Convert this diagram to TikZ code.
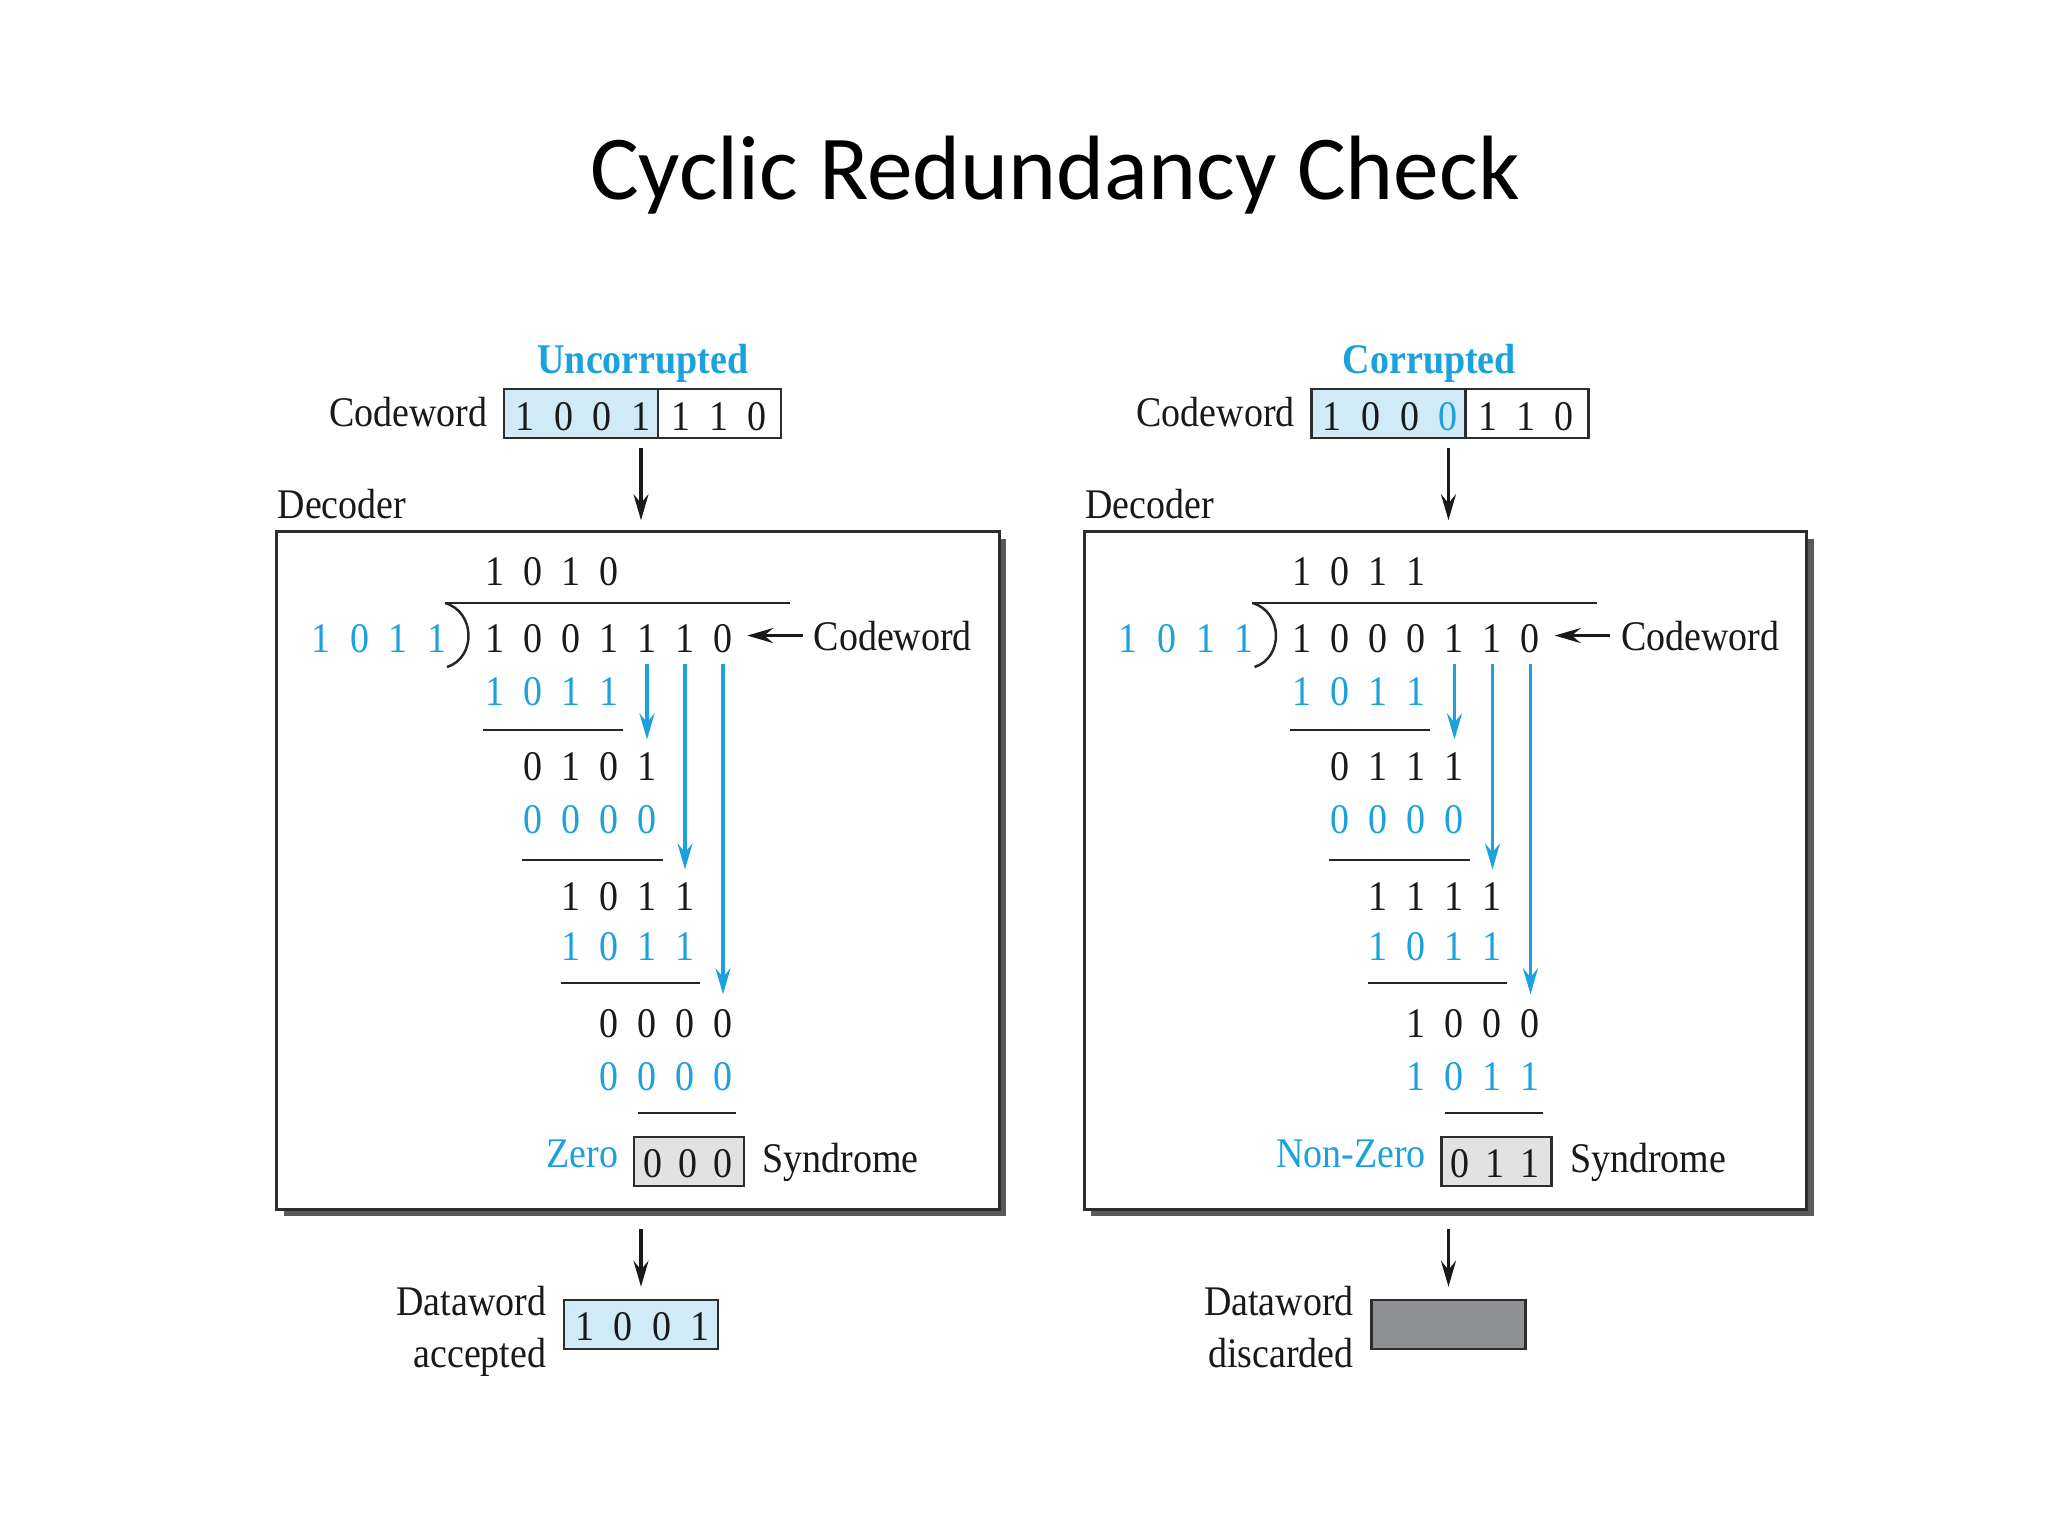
\documentclass[tikz,border=0pt]{standalone}
\usepackage{fontspec}
\setmainfont[FakeStretch=0.9]{Liberation Serif}
\newfontfamily\titlefont{Carlito}
\usetikzlibrary{arrows.meta,shadows}
\definecolor{cblue}{RGB}{27,161,219}
\definecolor{lblue}{RGB}{208,234,248}
\definecolor{sgray}{RGB}{226,226,226}
\definecolor{dgray}{RGB}{142,144,147}
\definecolor{edge}{RGB}{45,45,45}
\tikzset{
  txt/.style={font=\fontsize{12}{14}\selectfont, inner sep=0pt, text=black!90},
  btxt/.style={txt, text=cblue},
  cell/.style={draw=edge, line width=0.7pt, inner sep=0pt, minimum height=0.49cm},
  rulel/.style={line width=0.7pt, draw=black!85},
  arr/.style={line width=0.9pt, draw=black!90, -{Stealth[length=0.26cm, width=0.15cm, inset=0.09cm]}},
  barr/.style={line width=0.9pt, draw=cblue, -{Stealth[length=0.26cm, width=0.15cm, inset=0.09cm]}},
  decbox/.style={draw=edge, line width=0.9pt, fill=white, inner sep=0pt,
    minimum width=7.22cm, minimum height=6.77cm,
    drop shadow={shadow xshift=0.07cm, shadow yshift=-0.07cm, fill=black!65, opacity=1}}
}
% prefix, x0, dx, baseline y, style, list
\newcommand\digrow[6]{\foreach \d [count=\i] in {#6}{\node[#5, anchor=base] (#1-\i) at ({#2+#3*(\i-1)},#4) {\d};}}
% #1 prefix, #2 codeword data, #3 quotient, #4 dividend, #5 row2, #6 row4, #7 row6, #8 row7, #9 syndrome
\newcommand\panel[9]{%
  \node[cell, fill=lblue, minimum width=1.54cm] (#1-cwa) at (581,413.5) {};
  \node[cell, fill=white, minimum width=1.23cm] (#1-cwb) at (719.5,413.5) {};
  \digrow{#1-cwd}{525}{38.6}{430}{txt}{#2}
  \digrow{#1-cwe}{681}{38}{430}{txt}{1,1,0}
  \node[txt, anchor=base east] (#1-cwlab) at (488,426) {Codeword};
  \node[txt, anchor=base west] (#1-declab) at (277,518) {Decoder};
  \node[decbox] (#1-dec) at (638,870.5) {};
  \coordinate (#1-cwmid) at (641,438);
  \draw[arr, shorten <=0.1cm, shorten >=0.1cm] (#1-cwmid) -- (#1-cwmid |- #1-dec.north);
  \digrow{#1-q}{495}{38}{585}{txt}{#3}
  \draw[rulel] (445,603) -- (790,603);
  \draw[line width=0.7pt, black!85] (445,603) .. controls (476,612) and (476,658) .. (447,667);
  \digrow{#1-dv}{321}{38.67}{652}{btxt}{1,0,1,1}
  \digrow{#1-d}{495}{38}{652}{txt}{#4}
  \node[txt, anchor=base west] (#1-cwl2) at (813,650) {Codeword};
  \draw[arr, shorten <=0.1cm, shorten >=0.14cm] (#1-cwl2.west) -- (#1-cwl2.west -| #1-d-7.east);
  \digrow{#1-s1}{495}{38}{705}{btxt}{1,0,1,1}
  \draw[rulel] (483,730) -- (623,730);
  \digrow{#1-r2}{533}{38}{780}{txt}{#5}
  \digrow{#1-s2}{533}{38}{833}{btxt}{0,0,0,0}
  \draw[rulel] (522,860) -- (663,860);
  \digrow{#1-r4}{571}{38}{910}{txt}{#6}
  \digrow{#1-s3}{571}{38}{960}{btxt}{1,0,1,1}
  \draw[rulel] (561,983) -- (700,983);
  \digrow{#1-r6}{609}{38}{1037}{txt}{#7}
  \digrow{#1-s4}{609}{38}{1090}{btxt}{#8}
  \draw[rulel] (638,1113) -- (736,1113);
  \draw[barr, shorten <=0.11cm, shorten >=0.12cm] (#1-d-5.south) -- (#1-r2-4.north);
  \draw[barr, shorten <=0.11cm, shorten >=0.12cm] (#1-d-6.south) -- (#1-r4-4.north);
  \draw[barr, shorten <=0.11cm, shorten >=0.14cm] (#1-d-7.south) -- (#1-r6-4.north);
  \node[cell, fill=sgray, minimum width=1.10cm] (#1-syn) at (689,1161.5) {};
  \digrow{#1-sy}{653}{35}{1177}{txt}{#9}
  \node[txt, anchor=base west] (#1-synl) at (762,1172) {Syndrome};
}
\begin{document}
\begin{tikzpicture}[x=0.01cm, y=-0.01cm]
\useasboundingbox (0,0) rectangle (2048,1536);
\node[font=\titlefont\fontsize{26}{30}\selectfont, anchor=base, inner sep=0pt] (title) at (1055,199) {Cyclic Redundancy Check};

% left panel
\panel{L}{1,0,0,1}{1,0,1,0}{1,0,0,1,1,1,0}{0,1,0,1}{1,0,1,1}{0,0,0,0}{0,0,0,0}{0,0,0}
\node[btxt, font=\fontsize{12}{14}\selectfont\bfseries, anchor=base] (L-head) at (643,373) {Uncorrupted};
\node[btxt, anchor=base east] (L-zero) at (619,1167) {Zero};
\node[cell, fill=lblue, minimum width=1.54cm] (L-dw) at (641,1324.5) {};
\digrow{L-dwd}{585}{38.3}{1340}{txt}{1,0,0,1}
\node[txt, anchor=base east] (L-dwl1) at (547,1315) {Dataword};
\node[txt, anchor=base east] (L-dwl2) at (547,1367) {accepted};
\draw[arr, shorten <=0.18cm, shorten >=0.12cm] (L-dec.south -| L-dw.north) -- (L-dw.north);

% right panel
\begin{scope}[xshift=8.07cm]
\panel{R}{1,0,0,\textcolor{cblue}{0}}{1,0,1,1}{1,0,0,0,1,1,0}{0,1,1,1}{1,1,1,1}{1,0,0,0}{1,0,1,1}{0,1,1}
\node[btxt, font=\fontsize{12}{14}\selectfont\bfseries, anchor=base] (R-head) at (622,373) {Corrupted};
\node[btxt, anchor=base east] (R-zero) at (619,1167) {Non-Zero};
\node[cell, fill=dgray, minimum width=1.54cm] (R-dw) at (641,1324.5) {};
\node[txt, anchor=base east] (R-dwl1) at (547,1315) {Dataword};
\node[txt, anchor=base east] (R-dwl2) at (547,1367) {discarded};
\draw[arr, shorten <=0.18cm, shorten >=0.12cm] (R-dec.south -| R-dw.north) -- (R-dw.north);
\end{scope}
\end{tikzpicture}
\end{document}
